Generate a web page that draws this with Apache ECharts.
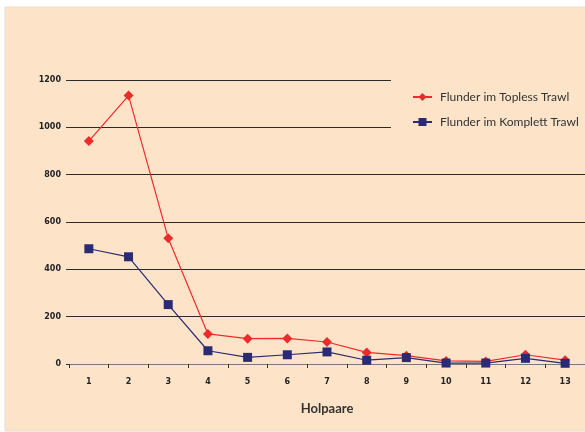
<!DOCTYPE html>
<html>
<head>
<meta charset="utf-8">
<style>
html,body{margin:0;padding:0;background:#ffffff;}
#chart{width:585px;height:432px;}
</style>
<script src="https://cdn.jsdelivr.net/npm/echarts@6/dist/echarts.min.js"></script>
</head>
<body>
<div id="chart"></div>
<script>
const categories = ['1','2','3','4','5','6','7','8','9','10','11','12','13'];
const toplessValues = [942, 1134, 531, 127, 107, 108, 93, 49, 35, 13, 11, 39, 16];
const komplettValues = [487, 453, 251, 56, 28, 39, 51, 16, 27, 4, 4, 24, 3];
const seriesNames = ['Flunder im Topless Trawl', 'Flunder im Komplett Trawl'];
const xAxisName = 'Holpaare';

const chart = echarts.init(document.getElementById('chart'), null, {renderer: 'canvas'});
chart.setOption({
  animation: false,
  backgroundColor: '#ffffff',
  graphic: [{
    type: 'rect', z: -10, silent: true,
    shape: {x: 5, y: 7, width: 585, height: 424},
    style: {fill: '#fde4c9', stroke: '#e6dccf', lineWidth: 1}
  }],
  grid: {left: 69, top: 80, width: 517, height: 284},
  legend: {
    orient: 'vertical',
    left: 391, top: 76,
    padding: [15, 14, 10, 21],
    itemGap: 13,
    itemWidth: 19, itemHeight: 10,
    backgroundColor: '#fde4c9',
    textStyle: {fontFamily: 'Lato', fontSize: 12, color: '#333333', padding: [0, 0, 0, 3]},
    data: seriesNames
  },
  xAxis: {
    type: 'category',
    data: categories,
    boundaryGap: true,
    name: xAxisName,
    nameLocation: 'middle',
    nameGap: 38,
    nameTextStyle: {fontFamily: 'Lato', fontSize: 13, fontWeight: 'bold', color: '#333333'},
    axisLine: {lineStyle: {color: '#7a7a7a', width: 1.2}},
    axisTick: {show: true, length: 4, lineStyle: {color: '#333333'}},
    axisLabel: {margin: 14, fontFamily: 'DejaVu Sans', fontSize: 8, fontWeight: 'bold', color: '#222222'},
    splitLine: {show: false}
  },
  yAxis: {
    type: 'value',
    min: 0, max: 1200, interval: 200,
    axisLine: {show: false},
    axisTick: {show: true, length: 3, lineStyle: {color: '#333333'}},
    axisLabel: {margin: 8, fontFamily: 'DejaVu Sans', fontSize: 8, fontWeight: 'bold', color: '#222222',
      formatter: function (v) { return String(v); }},
    splitLine: {lineStyle: {color: '#2a2a2a', width: 1.2}}
  },
  series: [
    {
      name: seriesNames[0],
      type: 'line',
      data: toplessValues,
      symbol: 'diamond',
      symbolSize: 10,
      lineStyle: {color: '#ee2b2b', width: 1.2},
      itemStyle: {color: '#ee2b2b'},
      z: 3
    },
    {
      name: seriesNames[1],
      type: 'line',
      data: komplettValues,
      symbol: 'rect',
      symbolSize: 9,
      lineStyle: {color: '#2b2a74', width: 1.2},
      itemStyle: {color: '#2b2a74'},
      z: 4
    }
  ]
});
</script>
</body>
</html>
